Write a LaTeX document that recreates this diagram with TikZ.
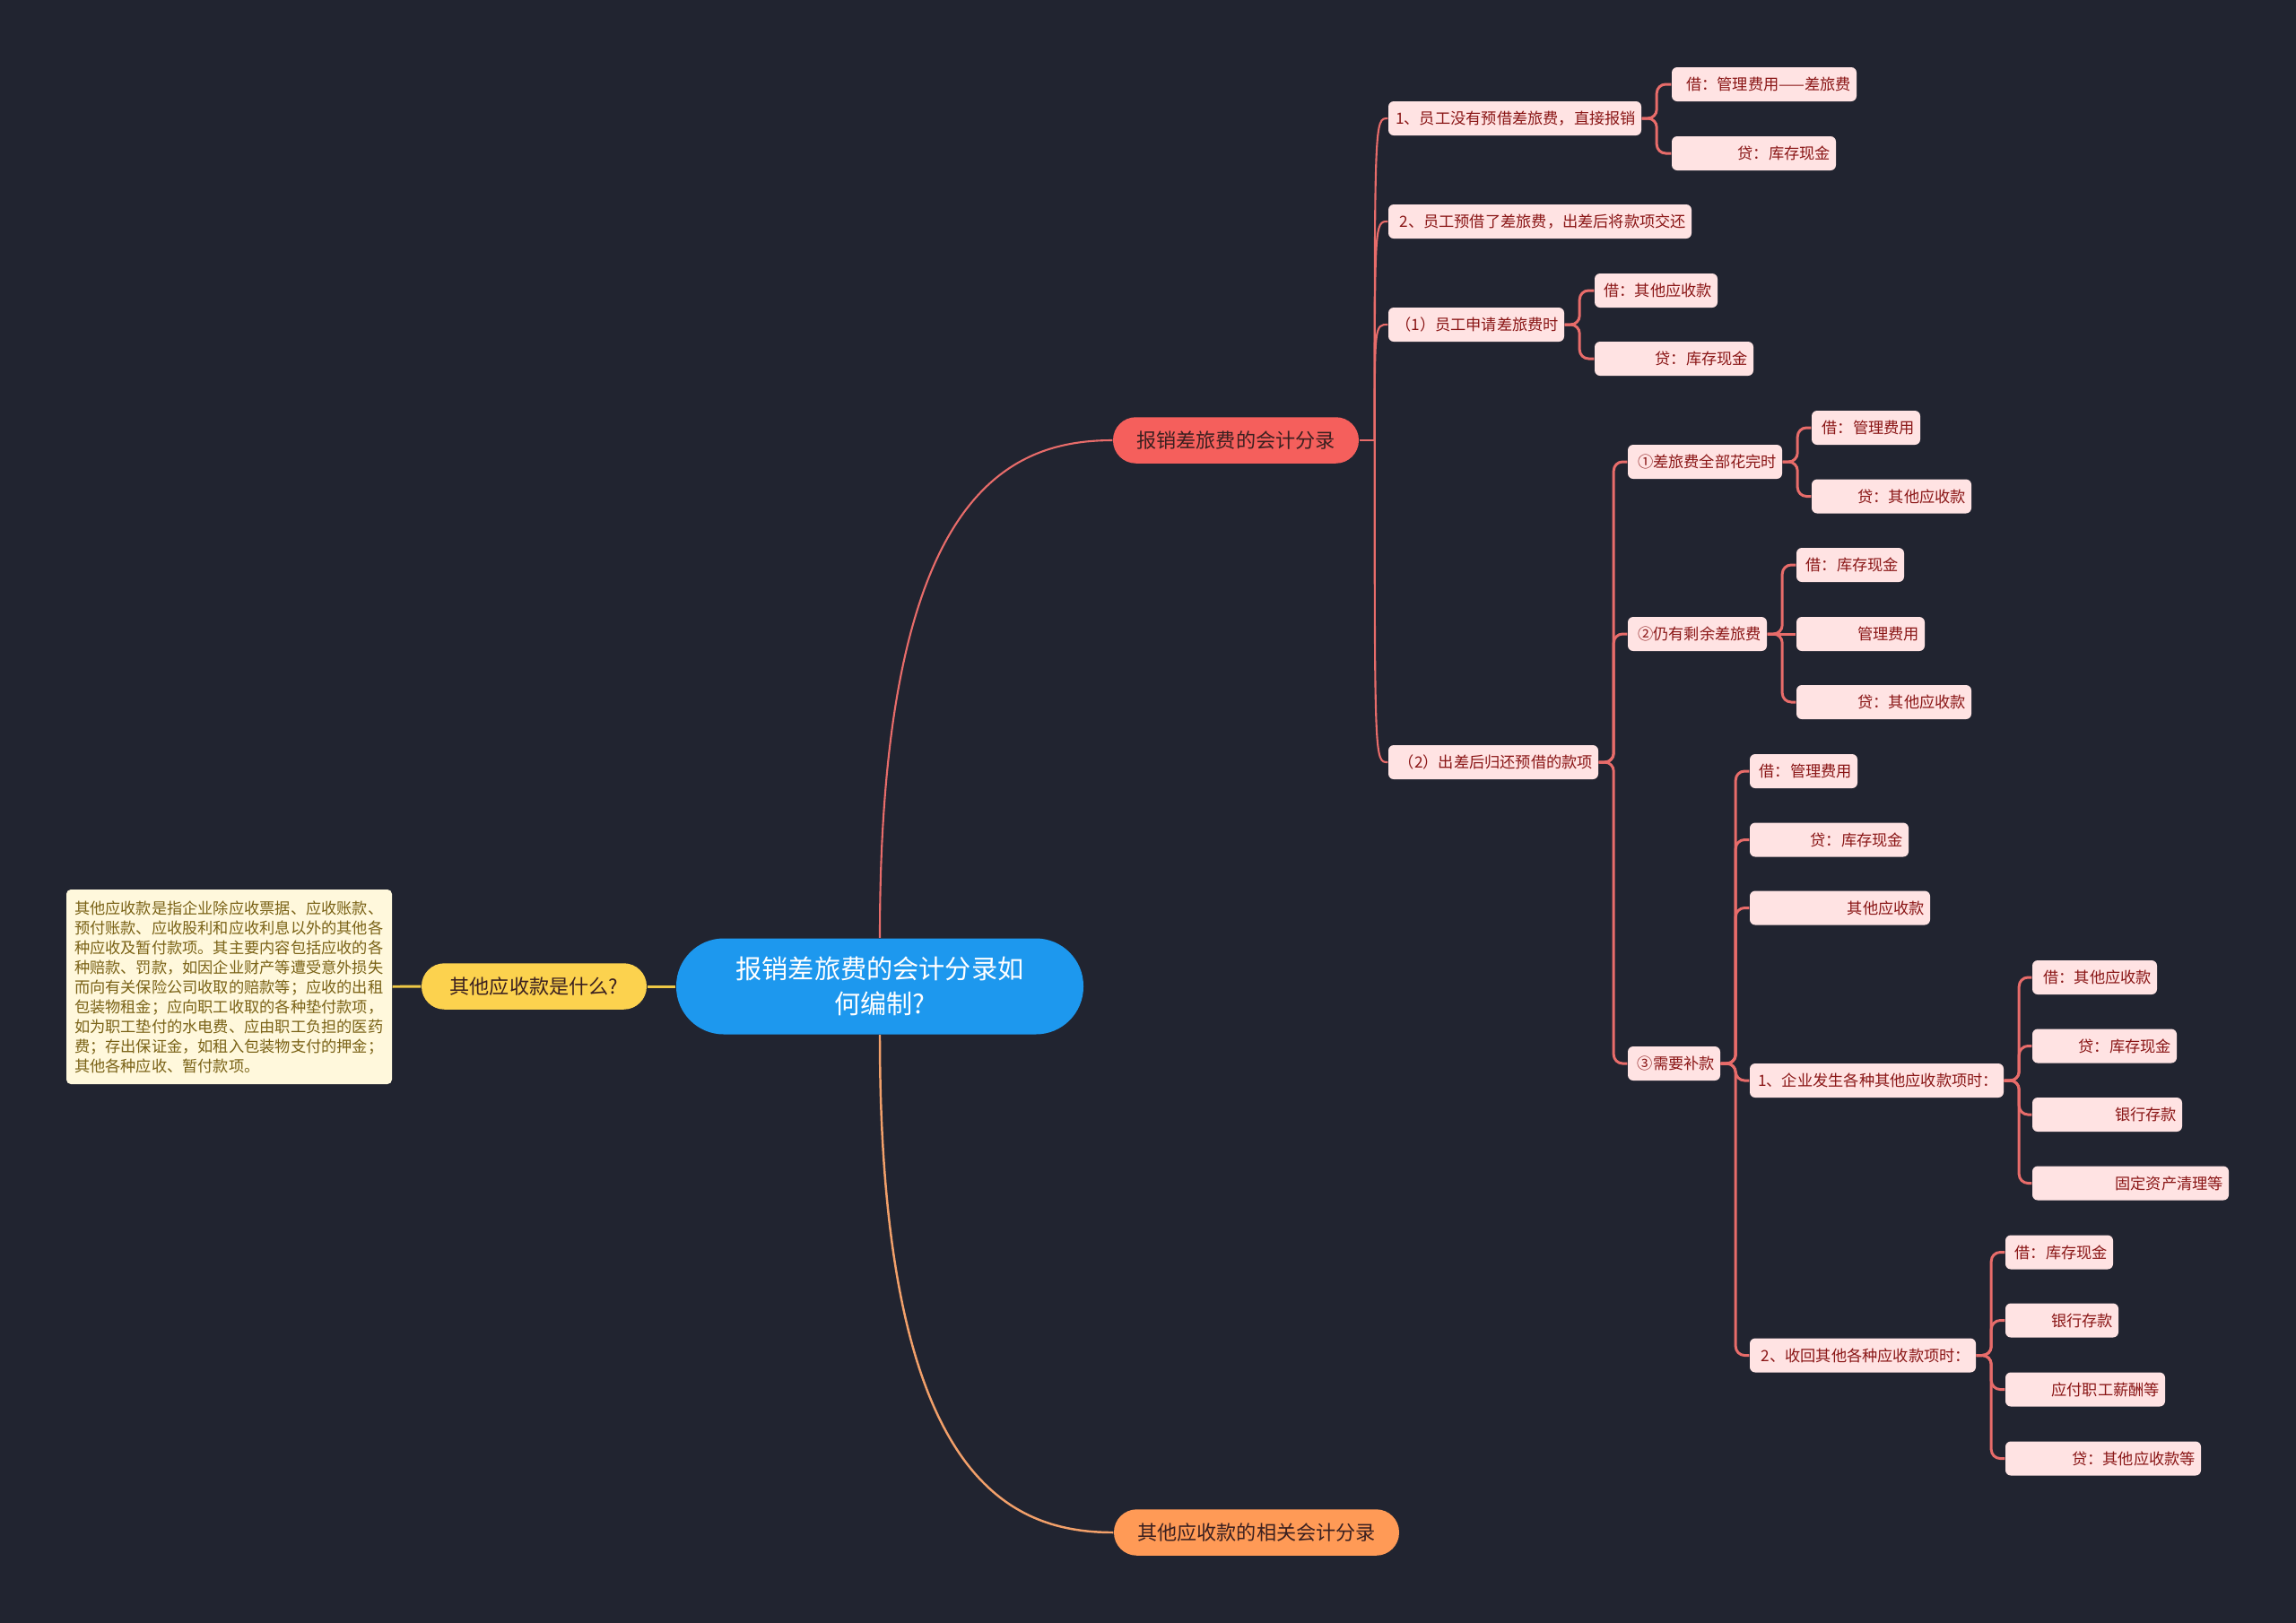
\documentclass[tikz,border=0pt]{standalone}
\usepackage{xcolor}
\usepackage{tikz}
\usetikzlibrary{calc}
\usepackage{fontspec}
\setmainfont{Noto Sans CJK SC}
\definecolor{canvas}{HTML}{212430}
\definecolor{rootblue}{HTML}{1D98EE}
\definecolor{topicred}{HTML}{F55F5C}
\definecolor{topicorange}{HTML}{FF9A56}
\definecolor{topicyellow}{HTML}{FCD24E}
\definecolor{leafpink}{HTML}{FFE3E3}
\definecolor{leaftext}{HTML}{8A1616}
\definecolor{linered}{HTML}{E86C6A}
\definecolor{lineorange}{HTML}{F2A06A}
\definecolor{lineyellow}{HTML}{EEC845}
\definecolor{notefill}{HTML}{FFF8DC}
\definecolor{notetext}{HTML}{7A6216}
\definecolor{darktext}{HTML}{3A2020}

\begin{document}
\begin{tikzpicture}[
  root/.style={fill=rootblue, rounded corners=0.53cm, minimum width=4.54cm, minimum height=1.07cm, align=center, text=white, font=\fontsize{8.3}{11.1}\selectfont},
  topic/.style={rounded corners=0.255cm, minimum height=0.515cm, inner sep=0pt, align=center, text=darktext, font=\fontsize{6.3}{7}\selectfont},
  leaf/.style={fill=leafpink, rounded corners=0.06cm, minimum height=0.38cm, inner xsep=0.06cm, inner ysep=0pt, align=right, text=leaftext, font=\fontsize{4.9}{5.5}\selectfont, text width=#1},
  note/.style={fill=notefill, rounded corners=0.05cm, text width=3.45cm, minimum height=2.17cm, inner xsep=0.09cm, inner ysep=0.1cm, align=left, text=notetext, font=\fontsize{4.9}{6.26}\selectfont},
  link/.style={draw=linered, line width=0.85pt, rounded corners=0.1cm},
  branch/.style={draw=linered, line width=0.6pt},
  obranch/.style={draw=lineorange, line width=0.7pt},
  ybranch/.style={draw=lineyellow, line width=0.85pt},
]

\useasboundingbox (0,0) rectangle (25.6,-18.09);
\fill[canvas] (-0.1,0.1) rectangle (25.7,-18.2);

% Root and main topics
\node[root] (main) at (9.81,-11.00) {报销差旅费的会计分录如\\何编制?};
\node[topic, fill=topicred, minimum width=2.74cm] (kj) at (13.78,-4.91) {报销差旅费的会计分录};
\node[topic, fill=topicorange, minimum width=3.18cm] (qt) at (14.01,-17.09) {其他应收款的相关会计分录};
\node[topic, fill=topicyellow, minimum width=2.51cm] (q) at (5.955,-11.00) {其他应收款是什么?};
\node[note] (note) at (2.555,-11.005) {其他应收款是指企业除应收票据、应收账款、\\预付账款、应收股利和应收利息以外的其他各\\种应收及暂付款项。其主要内容包括应收的各\\种赔款、罚款，如因企业财产等遭受意外损失\\而向有关保险公司收取的赔款等；应收的出租\\包装物租金；应向职工收取的各种垫付款项，\\如为职工垫付的水电费、应由职工负担的医药\\费；存出保证金，如租入包装物支付的押金；\\其他各种应收、暂付款项。};

% First level
\node[leaf=2.70cm] (a1) at (16.89,-1.32) {1、员工没有预借差旅费，直接报销};
\node[leaf=3.26cm] (a2) at (17.17,-2.47) {2、员工预借了差旅费，出差后将款项交还};
\node[leaf=1.84cm] (a3) at (16.46,-3.62) {（1）员工申请差旅费时};
\node[leaf=2.22cm] (a4) at (16.65,-8.50) {（2）出差后归还预借的款项};

\node[leaf=1.94cm] (b1) at (19.67,-0.94) {借：管理费用——差旅费};
\node[leaf=1.71cm] (b2) at (19.555,-1.71) {贷：库存现金};
\node[leaf=1.25cm] (b3) at (18.465,-3.24) {借：其他应收款};
\node[leaf=1.65cm] (b4) at (18.665,-4.00) {贷：库存现金};

\node[leaf=1.60cm] (c1) at (19.01,-5.15) {①差旅费全部花完时};
\node[leaf=1.43cm] (c2) at (18.925,-7.07) {②仍有剩余差旅费};
\node[leaf=0.91cm] (c3) at (18.665,-11.86) {③需要补款};

\node[leaf=1.09cm] (d1) at (20.805,-4.77) {借：管理费用};
\node[leaf=1.66cm] (d2) at (21.09,-5.535) {贷：其他应收款};
\node[leaf=1.08cm] (d3) at (20.63,-6.30) {借：库存现金};
\node[leaf=1.31cm] (d4) at (20.745,-7.07) {管理费用};
\node[leaf=1.83cm] (d5) at (21.005,-7.83) {贷：其他应收款};
\node[leaf=1.08cm] (d6) at (20.11,-8.60) {借：管理费用};
\node[leaf=1.65cm] (d7) at (20.395,-9.365) {贷：库存现金};
\node[leaf=1.89cm] (d8) at (20.515,-10.125) {其他应收款};
\node[leaf=2.71cm] (d9) at (20.925,-12.05) {1、企业发生各种其他应收款项时：};
\node[leaf=2.40cm] (d10) at (20.77,-15.115) {2、收回其他各种应收款项时：};

\node[leaf=1.27cm] (e1) at (23.355,-10.90) {借：其他应收款};
\node[leaf=1.49cm] (e2) at (23.465,-11.665) {贷：库存现金};
\node[leaf=1.55cm] (e3) at (23.495,-12.43) {银行存款};
\node[leaf=2.07cm] (e4) at (23.755,-13.195) {固定资产清理等};
\node[leaf=1.08cm] (e5) at (22.96,-13.965) {借：库存现金};
\node[leaf=1.14cm] (e6) at (22.99,-14.725) {银行存款};
\node[leaf=1.66cm] (e7) at (23.25,-15.495) {应付职工薪酬等};
\node[leaf=2.06cm] (e8) at (23.45,-16.265) {贷：其他应收款等};

% Connectors
\draw[branch] (main.north) .. controls +(0,4.87) and +(-1.22,0) .. (kj.west);
\draw[obranch] (main.south) .. controls +(0,-4.87) and +(-1.22,0) .. (qt.west);
\draw[ybranch] (main) -- (q);
\draw[ybranch] (q) -- (note);

\draw[branch] (kj.east) -- ++(0.17,0) coordinate (kjs);
\foreach \c in {a1,a2,a3,a4}
  \draw[branch] (kjs) .. controls (kjs |- \c.west) .. (\c.west);

\foreach \p/\c in {a1/b1, a1/b2, a3/b3, a3/b4, a4/c1, a4/c2, a4/c3,
                   c1/d1, c1/d2, c2/d3, c2/d5,
                   c3/d6, c3/d7, c3/d8, c3/d9, c3/d10,
                   d9/e1, d9/e2, d9/e3, d9/e4,
                   d10/e5, d10/e6, d10/e7, d10/e8}
  \draw[link] (\p.east) -- ++(0.165,0) |- (\c.west);
\draw[link] (c2) -- (d4);

\end{tikzpicture}
\end{document}
